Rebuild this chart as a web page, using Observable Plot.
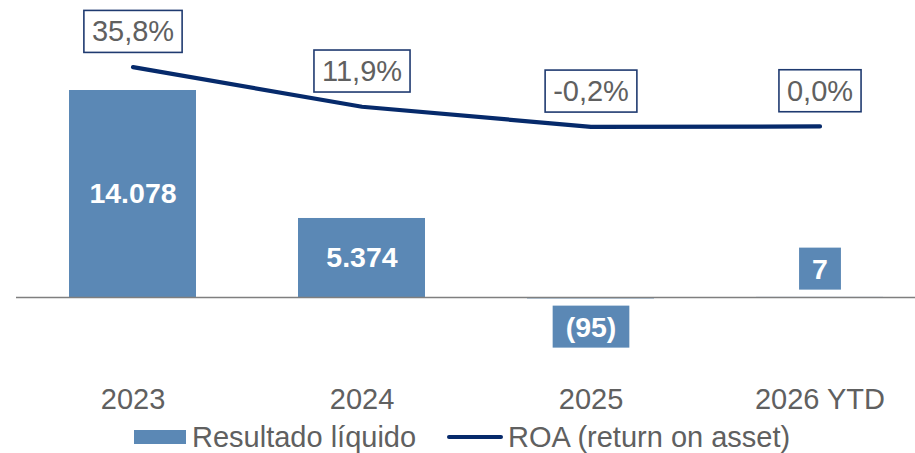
<!DOCTYPE html>
<html>
<head>
<meta charset="utf-8">
<script src="https://cdn.jsdelivr.net/npm/d3@7"></script>
<script src="https://cdn.jsdelivr.net/npm/@observablehq/plot@0.6"></script>
<style>
  html, body { margin: 0; padding: 0; background: #fff; overflow: hidden; width: 915px; height: 453px; }
  #chart svg { display: block; }
  .legend { display: flex; align-items: center; font-family: "Liberation Sans", Arial, sans-serif; font-size: 29px; color: #606060; line-height: 30px; height: 30px; margin-top: 0px; padding-left: 134px; white-space: nowrap; }
  .sw-bar { width: 52px; height: 14px; background: #5b88b5; margin-right: 6px; }
  .sw-line { width: 56px; height: 4px; border-radius: 2px; background: #062a6b; margin-left: 31px; margin-right: 5px; }
</style>
</head>
<body>
<div id="chart"></div>
<div class="legend"><span class="sw-bar"></span><span>Resultado líquido</span><span class="sw-line"></span><span>ROA (return on asset)</span></div>
<script>
const categories = ["2023", "2024", "2025", "2026 YTD"];
const resultado = [14078, 5374, -95, 7];
const roa = [35.8, 11.9, -0.2, 0.0];

const barColor = "#5b88b5";
const lineColor = "#062a6b";
const textGray = "#606060";
const font = "Liberation Sans, Arial, sans-serif";

const nf = d3.formatLocale({decimal: ",", thousands: ".", grouping: [3], currency: ["", ""]}).format(",.0f");
const fmtBar = v => v < 0 ? `(${nf(-v)})` : nf(v);
const fmtPct = v => (v === 0 ? "0,0" : v.toFixed(1).replace(".", ",")) + "%";

// secondary (ROA) axis mapped onto the primary axis span
const roaAxis = d3.scaleLinear().domain([-103.2, 21.7]).range([0, 14078]);

const data = categories.map((c, i) => ({
  year: c, value: resultado[i], roa: roa[i], roaY: roaAxis(roa[i])
}));

const big = data.filter(d => Math.abs(d.value) > 2000);
const smallPos = data.filter(d => Math.abs(d.value) <= 2000 && d.value >= 0);
const smallNeg = data.filter(d => Math.abs(d.value) <= 2000 && d.value < 0);

const plot = Plot.plot({
  width: 915,
  height: 422,
  marginLeft: 16,
  marginRight: 0,
  marginTop: 0,
  marginBottom: 52,
  style: {fontFamily: font, background: "white"},
  x: {domain: categories, range: [68, 883.5], paddingInner: 0.4466, paddingOuter: 0, label: null, tickSize: 0, tickPadding: 18},
  y: {domain: [0, 14078], range: [297, 90], axis: null},
  marks: [
    Plot.barY(data, {x: "year", y: "value", fill: barColor}),
    Plot.ruleY([0], {stroke: "#7f7f7f", strokeWidth: 1.7}),
    Plot.line(data, {x: "year", y: "roaY", stroke: lineColor, strokeWidth: 4.2, strokeLinecap: "round", strokeLinejoin: "round"}),
    Plot.text(data, {x: "year", y: "roaY", text: d => fmtPct(d.roa), dy: -35, fill: textGray, fontSize: 29, ariaDescription: "roa-labels"}),
    Plot.text(big, {x: "year", y: d => d.value / 2, text: d => fmtBar(d.value), fill: "white", fontWeight: "bold", fontSize: 28.5}),
    Plot.text(smallPos, {x: "year", y: 0, dy: -28, text: d => fmtBar(d.value), fill: "white", fontWeight: "bold", fontSize: 28.5, ariaDescription: "bar-boxes"}),
    Plot.text(smallNeg, {x: "year", y: 0, dy: 30, text: d => fmtBar(d.value), fill: "white", fontWeight: "bold", fontSize: 28.5, ariaDescription: "bar-boxes"})
  ]
});

document.getElementById("chart").appendChild(plot);

// style x axis text
plot.querySelectorAll('g[aria-label="x-axis tick label"], g[aria-label="x-axis"]').forEach(g => {
  g.setAttribute("font-size", "29");
  g.setAttribute("fill", textGray);
  g.querySelectorAll("text").forEach(t => t.setAttribute("fill", textGray));
});

// label boxes
function boxes(desc, padX, fill, stroke) {
  plot.querySelectorAll(`g[aria-description="${desc}"] text`).forEach(t => {
    const b = t.getBBox();
    const cy = b.y + b.height / 2;
    const r = document.createElementNS("http://www.w3.org/2000/svg", "rect");
    r.setAttribute("x", b.x - padX);
    r.setAttribute("y", cy - 21);
    r.setAttribute("width", b.width + 2 * padX);
    r.setAttribute("height", 42);
    r.setAttribute("fill", fill);
    if (stroke) { r.setAttribute("stroke", stroke); r.setAttribute("stroke-width", 1.6); }
    const tr = t.getAttribute("transform");
    if (tr) r.setAttribute("transform", tr);
    t.parentNode.insertBefore(r, t);
  });
}
boxes("roa-labels", 8, "white", "#1f3a70");
boxes("bar-boxes", 13, barColor, null);
</script>
</body>
</html>
